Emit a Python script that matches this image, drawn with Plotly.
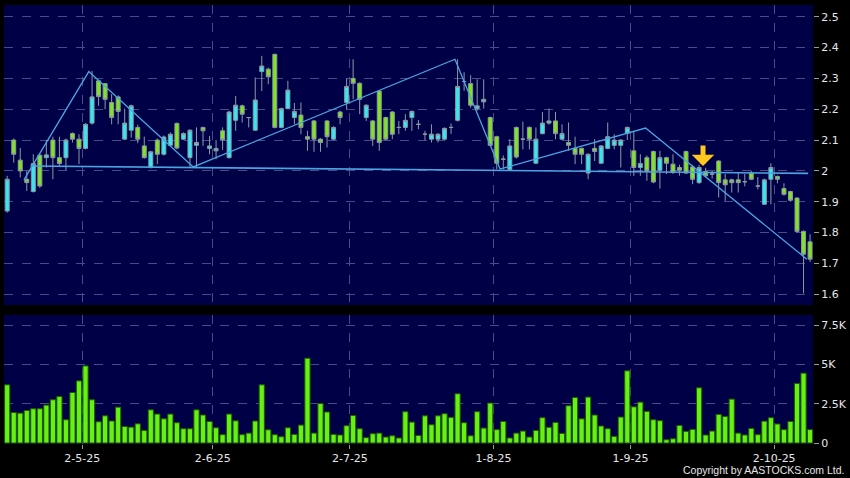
import plotly.graph_objects as go

# ---------------- data ----------------
opens = [1.870, 2.100, 2.035, 1.973, 1.933, 2.051, 2.043, 2.100, 2.043, 2.043,
         2.121, 2.103, 2.073, 2.155, 2.292, 2.283, 2.222, 2.240, 2.103, 2.132,
         2.141, 2.081, 2.011, 2.100, 2.054, 2.083, 2.154, 2.103, 2.043, 2.083,
         2.141, 2.073, 2.065, 2.130, 2.043, 2.164, 2.211, 2.173, 2.132, 2.322,
         2.330, 2.378, 2.141, 2.202, 2.173, 2.181, 2.111, 2.162, 2.103, 2.162,
         2.103, 2.191, 2.222, 2.300, 2.284, 2.173, 2.162, 2.259, 2.173, 2.191,
         2.141, 2.141, 2.173, 2.151, 2.119, 2.103, 2.103, 2.103, 2.141, 2.164,
         2.290, 2.283, 2.202, 2.224, 2.173, 2.111, 2.038, 2.005, 2.141, 2.103,
         2.141, 2.025, 2.121, 2.155, 2.162, 2.103, 2.092, 2.073, 2.073, 1.993,
         2.073, 2.025, 2.073, 2.083, 2.083, 2.122, 2.065, 2.011, 2.043, 2.063,
         2.002, 2.043, 2.022, 2.011, 2.063, 2.013, 1.962, 1.998, 1.990, 2.032,
         1.971, 1.971, 1.971, 1.965, 1.993, 1.951, 1.892, 1.973, 1.982, 1.943,
         1.933, 1.912, 1.804, 1.770]
highs = [1.984, 2.105, 2.074, 2.000, 2.054, 2.055, 2.100, 2.111, 2.111, 2.105,
         2.125, 2.119, 2.155, 2.324, 2.295, 2.285, 2.249, 2.245, 2.202, 2.215,
         2.150, 2.111, 2.065, 2.105, 2.115, 2.125, 2.157, 2.125, 2.135, 2.141,
         2.143, 2.113, 2.100, 2.141, 2.195, 2.243, 2.215, 2.175, 2.303, 2.373,
         2.335, 2.380, 2.205, 2.292, 2.220, 2.222, 2.130, 2.165, 2.106, 2.165,
         2.145, 2.195, 2.300, 2.362, 2.287, 2.216, 2.165, 2.262, 2.176, 2.194,
         2.162, 2.184, 2.196, 2.165, 2.130, 2.151, 2.122, 2.141, 2.154, 2.362,
         2.320, 2.310, 2.297, 2.297, 2.176, 2.114, 2.050, 2.103, 2.144, 2.160,
         2.145, 2.141, 2.191, 2.202, 2.191, 2.151, 2.157, 2.111, 2.076, 2.057,
         2.103, 2.084, 2.157, 2.119, 2.103, 2.144, 2.130, 2.054, 2.050, 2.066,
         2.065, 2.046, 2.054, 2.020, 2.066, 2.020, 2.020, 2.010, 2.000, 2.035,
         1.990, 1.975, 1.993, 1.990, 2.000, 1.980, 1.975, 2.025, 1.985, 1.960,
         1.936, 1.915, 1.807, 1.795]
lows = [1.865, 2.027, 1.979, 1.935, 1.930, 1.945, 2.011, 1.973, 2.016, 2.003,
        2.092, 2.022, 2.070, 2.150, 2.211, 2.200, 2.151, 2.151, 2.100, 2.108,
        2.090, 2.040, 2.008, 2.022, 2.050, 2.080, 2.070, 2.100, 2.013, 2.013,
        2.081, 2.054, 2.038, 2.068, 2.040, 2.130, 2.157, 2.141, 2.130, 2.259,
        2.281, 2.138, 2.138, 2.200, 2.151, 2.119, 2.065, 2.062, 2.062, 2.076,
        2.100, 2.151, 2.200, 2.232, 2.184, 2.162, 2.081, 2.065, 2.100, 2.103,
        2.119, 2.130, 2.130, 2.135, 2.100, 2.092, 2.092, 2.100, 2.120, 2.160,
        2.260, 2.205, 2.195, 2.202, 2.080, 2.005, 2.005, 2.002, 2.040, 2.070,
        2.070, 2.022, 2.118, 2.150, 2.103, 2.100, 2.065, 2.022, 2.022, 1.973,
        2.032, 2.022, 2.070, 2.070, 2.011, 2.100, 1.984, 1.984, 1.968, 1.960,
        1.943, 1.990, 1.990, 1.985, 1.990, 1.957, 1.958, 1.980, 1.975, 1.914,
        1.903, 1.930, 1.930, 1.950, 1.970, 1.940, 1.890, 1.892, 1.960, 1.920,
        1.900, 1.800, 1.603, 1.705]
closes = [1.973, 2.054, 2.000, 1.962, 2.024, 1.951, 2.052, 2.043, 2.024, 2.100,
          2.103, 2.073, 2.151, 2.240, 2.241, 2.232, 2.173, 2.193, 2.155, 2.211,
          2.103, 2.043, 2.062, 2.054, 2.110, 2.119, 2.074, 2.121, 2.132, 2.092,
          2.130, 2.081, 2.073, 2.101, 2.191, 2.213, 2.184, 2.173, 2.230, 2.340,
          2.305, 2.141, 2.202, 2.262, 2.193, 2.141, 2.103, 2.103, 2.092, 2.111,
          2.141, 2.173, 2.274, 2.284, 2.232, 2.213, 2.103, 2.092, 2.103, 2.119,
          2.141, 2.164, 2.193, 2.151, 2.119, 2.119, 2.119, 2.138, 2.141, 2.274,
          2.290, 2.213, 2.211, 2.232, 2.083, 2.025, 2.038, 2.081, 2.045, 2.103,
          2.103, 2.103, 2.155, 2.162, 2.121, 2.121, 2.083, 2.054, 2.054, 2.054,
          2.063, 2.081, 2.111, 2.100, 2.100, 2.141, 2.011, 2.024, 2.000, 1.964,
          2.043, 2.025, 1.995, 2.002, 1.993, 1.973, 2.011, 1.984, 1.990, 1.962,
          1.955, 1.962, 1.962, 1.965, 1.973, 1.951, 1.971, 2.011, 1.973, 1.924,
          1.905, 1.804, 1.730, 1.714]
vol_k = [3.70, 1.94, 1.90, 2.07, 2.18, 2.18, 2.41, 2.75, 2.96, 1.48,
         3.21, 3.95, 4.90, 2.75, 1.35, 1.73, 1.40, 2.28, 1.05, 1.01,
         1.22, 0.80, 2.11, 1.84, 1.54, 1.84, 1.29, 0.91, 0.91, 2.11,
         1.78, 1.37, 0.97, 0.53, 1.84, 1.41, 0.53, 0.63, 1.40, 3.70,
         0.84, 0.53, 0.40, 0.97, 0.55, 1.14, 5.39, 0.63, 2.51, 1.97,
         0.55, 0.51, 1.10, 1.75, 0.91, 0.34, 0.59, 0.63, 0.38, 0.46,
         0.32, 1.99, 1.33, 0.48, 1.73, 1.16, 1.73, 1.86, 1.63, 3.13,
         1.29, 0.46, 1.99, 0.95, 2.54, 0.85, 1.37, 0.32, 0.63, 0.76,
         0.38, 0.80, 1.61, 1.00, 1.31, 0.61, 2.37, 2.89, 1.54, 2.92,
         1.78, 1.08, 0.91, 0.42, 1.65, 4.59, 2.30, 2.60, 2.01, 1.48,
         1.42, 0.21, 0.27, 1.12, 0.74, 0.87, 3.51, 0.51, 0.76, 1.82,
         1.69, 2.79, 0.63, 0.51, 0.93, 0.53, 1.39, 1.61, 1.21, 0.85,
         1.37, 3.78, 4.44, 0.85]
day_index = list(range(len(closes)))

date_tick_index = [11.5, 31.5, 52.5, 74.5, 95.5, 117.5]
date_tick_labels = ["2-5-25", "2-6-25", "2-7-25", "1-8-25", "1-9-25", "2-10-25"]
price_ticks = [1.6, 1.7, 1.8, 1.9, 2.0, 2.1, 2.2, 2.3, 2.4, 2.5]
price_tick_labels = ["1.6", "1.7", "1.8", "1.9", "2", "2.1", "2.2", "2.3", "2.4", "2.5"]
vol_ticks = [0, 2.5, 5, 7.5]
vol_tick_labels = ["0", "2.5K", "5K", "7.5K"]

# pattern lines drawn on the chart
neck_x = [3.6, 122.7]
neck_y = [2.016, 1.992]
zig_x = [2.57, 12.5, 28.5, 68.6, 75.5, 97.8, 122.5]
zig_y = [1.971, 2.322, 2.013, 2.362, 2.006, 2.139, 1.714]
signal_x = 106.6
signal_y = 2.016

# ---------------- styling ----------------
PANEL = "#000046"
GRID = "#4a4a86"
TXT = "#e6e6e6"
CYAN = "#33e8f2"
GREEN = "#80e41e"
EDGE = "#8c9aa2"
VOLC = "#66f014"
LINEC = "#4aa6e2"
FONT = "DejaVu Sans"

fig = go.Figure()

fig.add_trace(go.Candlestick(
    x=day_index, open=opens, high=highs, low=lows, close=closes,
    increasing=dict(fillcolor=CYAN, line=dict(color=EDGE, width=1)),
    decreasing=dict(fillcolor=GREEN, line=dict(color=EDGE, width=1)),
    whiskerwidth=0, xaxis="x", yaxis="y", hoverinfo="skip", showlegend=False))

fig.add_trace(go.Scatter(x=neck_x, y=neck_y, mode="lines",
                         line=dict(color=LINEC, width=1.6),
                         xaxis="x", yaxis="y", hoverinfo="skip", showlegend=False))
fig.add_trace(go.Scatter(x=zig_x, y=zig_y, mode="lines",
                         line=dict(color=LINEC, width=1.3),
                         xaxis="x", yaxis="y", hoverinfo="skip", showlegend=False))

fig.add_trace(go.Bar(x=day_index, y=vol_k, width=0.8,
                     marker=dict(color=VOLC, line=dict(color="#1f5a00", width=1)),
                     xaxis="x2", yaxis="y2", hoverinfo="skip", showlegend=False))

fig.add_annotation(x=signal_x, y=signal_y, xref="x", yref="y",
                   showarrow=True, ax=0, ay=-22, arrowhead=1, arrowsize=0.75,
                   arrowwidth=5, arrowcolor="#ffc81e", text="")

fig.add_annotation(text="Copyright by AASTOCKS.com Ltd.", xref="paper", yref="paper",
                   x=1.0, y=0, xanchor="right", yanchor="bottom", xshift=32, yshift=-33,
                   showarrow=False, borderpad=0,
                   font=dict(family="Liberation Sans", size=10.5, color=TXT))

xcommon = dict(range=[-0.49, 123.45], tickmode="array", tickvals=date_tick_index,
               showgrid=True, gridcolor=GRID, griddash="dash", gridwidth=1,
               zeroline=False, showline=False, fixedrange=True,
               tickfont=dict(family=FONT, size=11, color=TXT),
               ticks="outside", ticklen=4, tickcolor="#9a9a9a")

fig.update_layout(
    width=850, height=478,
    paper_bgcolor="#000000", plot_bgcolor=PANEL,
    margin=dict(l=4, r=37, t=5, b=34),
    boxgap=0.13,
    showlegend=False,
    hovermode=False,
    xaxis=dict(xcommon, domain=[0, 1], anchor="y", ticktext=[""] * 6, ticks="",
               rangeslider=dict(visible=False)),
    xaxis2=dict(xcommon, domain=[0, 1], anchor="y2", ticktext=date_tick_labels),
    yaxis=dict(domain=[0.3166, 1.0], range=[1.5653, 2.5379], side="right",
               tickmode="array", tickvals=price_ticks, ticktext=price_tick_labels,
               showgrid=True, gridcolor=GRID, griddash="dash", zeroline=False,
               ticks="outside", ticklen=5, tickcolor="#9a9a9a",
               tickfont=dict(family=FONT, size=11, color=TXT), fixedrange=True),
    yaxis2=dict(domain=[0.0, 0.2938], range=[-0.063, 8.135], side="right",
                tickmode="array", tickvals=vol_ticks, ticktext=vol_tick_labels,
                showgrid=True, gridcolor=GRID, griddash="dash", zeroline=False,
                ticks="outside", ticklen=5, tickcolor="#9a9a9a",
                tickfont=dict(family=FONT, size=11, color=TXT), fixedrange=True),
)

fig.write_html("out.html", config={"displayModeBar": False, "staticPlot": True},
               post_script="document.body.style.margin='0';document.body.style.background='#000';")
